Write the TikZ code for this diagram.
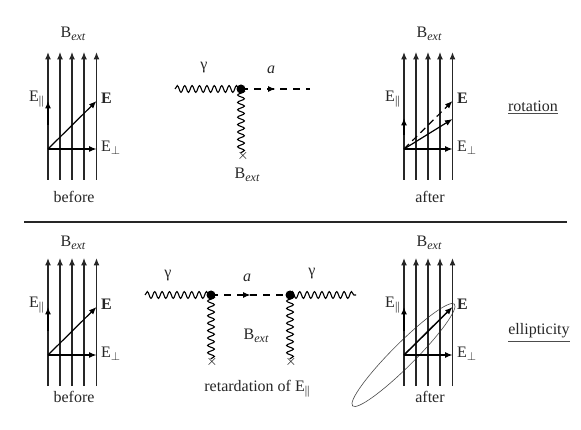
\documentclass[tikz,border=0pt]{standalone}
\usepackage{fontspec}
\setmainfont{Liberation Serif}
\usetikzlibrary{arrows.meta,decorations.pathmorphing,decorations.markings}
\newcommand{\Bext}{B\raisebox{-2.5pt}{\fontsize{12}{12}\selectfont\itshape ext}}
\newcommand{\Epar}{E\raisebox{-3pt}{\fontsize{12}{12}\selectfont ||}}
\newcommand{\Eperp}{E\raisebox{-3pt}{\fontsize{12}{12}\selectfont$\perp$}}
\tikzset{
  x=1pt,y=-1pt,
  txt/.style={inner sep=0pt,font=\fontsize{16}{18}\selectfont,text=black!85},
  tip/.style={-{Latex[length=7.5pt,width=6pt]}},
  fieldline/.style={tip,line width=1.1pt,black!85},
  outerline/.style={fieldline,line width=1.3pt},
  vec/.style={tip,line width=1.2pt},
  wavy/.style={decorate,decoration={snake,segment length=7.4pt,amplitude=3.4pt},line width=1.1pt},
  dashline/.style={line width=1.1pt,dash pattern=on 7pt off 6pt,
     postaction={decorate},decoration={markings,mark=at position 0.5 with {\arrow{Latex[length=7.5pt,width=6pt]}}}},
  dotnode/.style={circle,fill=black,minimum size=9pt,inner sep=0pt},
  crossmark/.style={inner sep=0pt,font=\fontsize{14}{14}\selectfont},
  rulecol/.style={line width=1.1pt,black!85}
}
\newcommand{\panel}[6]{% name, x0, y0, label, label y, Bext y
  \begin{scope}[shift={(#2,#3)}]
    \foreach \k/\xx/\st in {A/0/outerline,B/12/fieldline,C/24/fieldline,D/36/fieldline,F/48.5/outerline}{
      \coordinate (#1b\k) at (\xx,128);
      \coordinate (#1t\k) at (\xx,0);
      \draw[\st] (#1b\k) -- (#1t\k);
    }
    \coordinate (#1o) at (0,97);
    \coordinate (#1p) at (48.5,97);
    \draw[vec] (#1o) -- (#1p);
    \node[txt] (#1bl) at (25,#6) {\Bext};
    \node[txt,anchor=west] (#1ep) at (53,96) {\Eperp};
    \node[txt,anchor=east] (#1el) at (-4,47) {\Epar};
    \node[txt,anchor=west] (#1e) at (53,46) {\bfseries E};
    \node[txt] (#1lab) at (26,#5) {#4};
  \end{scope}
}
\begin{document}
\begin{tikzpicture}
\useasboundingbox (0,0) rectangle (581,430);
% top left
\panel{a}{48}{52}{before}{145}{-18}
\coordinate (aet) at (96.5,101);
\draw[vec] (ao) -- (aet);
\coordinate (apt) at (48,101);
\draw[tip,line width=1.2pt] (48,125) -- (apt);
% top right
\panel{b}{404}{52}{after}{145}{-18}
\coordinate (bet) at (452.5,101);
\coordinate (bst) at (452.5,119);
\coordinate (bpt) at (404,118);
\draw[tip,line width=1.2pt,dash pattern=on 7pt off 4.5pt] (bo) -- (bet);
\draw[vec] (bo) -- (bst);
\draw[tip,line width=1.2pt] (404,135) -- (bpt);
% bottom left
\panel{c}{48}{258}{before}{139}{-15}
\coordinate (cet) at (96.5,307);
\draw[vec] (co) -- (cet);
\coordinate (cpt) at (48,307);
\draw[tip,line width=1.2pt] (48,331) -- (cpt);
% bottom right
\draw[black!70,line width=0.6pt,rotate around={45:(403.5,355)}] (403.5,355) ellipse (72 and 11.5);
\panel{d}{404}{258}{after}{139}{-15}
\coordinate (det) at (452.5,307);
\coordinate (dpt) at (404,307);
\draw[vec,line width=1.5pt] (do) -- (det);
\draw[tip,line width=1.2pt] (404,331) -- (dpt);
% top diagram
\node[dotnode] (v1) at (241,89) {};
\coordinate (g1) at (175,89);
\coordinate (a1) at (310,89);
\node[crossmark] (x1) at (243,156) {$\times$};
\draw[wavy] (g1) -- (v1.center);
\draw[wavy] (v1.center) -- (241,153);
\draw[dashline] (v1.center) -- (a1);
\node[txt] (lg1) at (204,68) {γ};
\node[txt] (la1) at (271,70) {\itshape a};
\node[txt] (lb1) at (247,175) {\Bext};
% bottom diagram
\node[dotnode] (v2) at (211,295) {};
\node[dotnode] (v3) at (290,295) {};
\coordinate (g2) at (145,295);
\coordinate (g3) at (356,295);
\node[crossmark] (x2) at (212,362) {$\times$};
\node[crossmark] (x3) at (291,362) {$\times$};
\draw[wavy] (g2) -- (v2.center);
\draw[wavy] (v3.center) -- (g3);
\draw[wavy] (v2.center) -- (211,359);
\draw[wavy] (v3.center) -- (290,359);
\draw[dashline] (v2.center) -- (v3.center);
\node[txt] (lg2) at (168,276) {γ};
\node[txt] (lg3) at (312,274) {γ};
\node[txt] (la2) at (247,278) {\itshape a};
\node[txt] (lb2) at (256,336) {\Bext};
\node[txt] (lr) at (257,389) {retardation of \Epar};
% separator
\coordinate (s1) at (24,222);
\coordinate (s2) at (567,222);
\draw[rulecol] (s1) -- (s2);
% side labels
\node[txt] (rot) at (533,106) {rotation};
\coordinate (r1) at (508,113);
\coordinate (r2) at (558,113);
\draw[line width=0.7pt,black!70] (r1) -- (r2);
\node[txt] (ell) at (539,331) {ellipticity};
\coordinate (e1) at (508,341);
\coordinate (e2) at (570,341);
\draw[line width=0.7pt,black!70] (e1) -- (e2);
\end{tikzpicture}
\end{document}
